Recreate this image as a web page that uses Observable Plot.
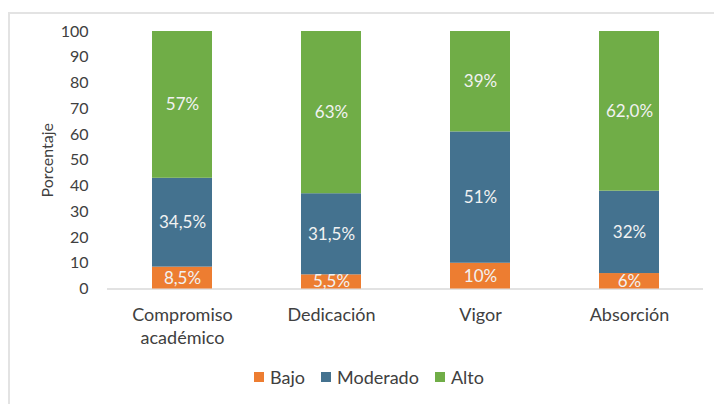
<!DOCTYPE html>
<html>
<head>
<meta charset="utf-8">
<script src="https://cdn.jsdelivr.net/npm/d3@7"></script>
<script src="https://cdn.jsdelivr.net/npm/@observablehq/plot@0.6"></script>
<style>
  body { margin: 0; background: #fff; font-family: Lato, "Open Sans", sans-serif; }
  #frame { position: absolute; left: 8px; top: 12px; width: 800px; height: 500px;
           border-left: 2px solid #e3e3e3; border-top: 2px solid #e3e3e3; }
  #chart { position: absolute; left: 0; top: 0; }
  #legend { position: absolute; left: 0; top: 366px; width: 714px; display: flex;
            justify-content: center; gap: 16px; font-size: 18px; color: #404040; padding-left: 24px; box-sizing: border-box; }
  #legend span.item { display: flex; align-items: center; gap: 6px; }
  #legend span.sw { width: 10px; height: 10px; display: inline-block; }
</style>
</head>
<body>
<div id="frame"></div>
<div id="chart"></div>
<div id="legend"></div>
<script>
const categories = ["Compromiso\nacadémico", "Dedicación", "Vigor", "Absorción"];
const levels = ["Bajo", "Moderado", "Alto"];
const colors = ["#ED7D31", "#44728F", "#70AD47"];
const bajo = [8.5, 5.5, 10, 6];
const moderado = [34.5, 31.5, 51, 32];
const alto = [57, 63, 39, 62];
const bajoLabels = ["8,5%", "5,5%", "10%", "6%"];
const moderadoLabels = ["34,5%", "31,5%", "51%", "32%"];
const altoLabels = ["57%", "63%", "39%", "62,0%"];
const yTicks = [0, 10, 20, 30, 40, 50, 60, 70, 80, 90, 100];

const series = [[bajo, bajoLabels], [moderado, moderadoLabels], [alto, altoLabels]];
const rows = [];
categories.forEach((c, i) => {
  levels.forEach((lv, j) => {
    rows.push({cat: c, level: lv, value: series[j][0][i], label: series[j][1][i]});
  });
});

const chart = Plot.plot({
  width: 714,
  height: 362,
  marginTop: 31,
  marginBottom: 73.5,
  marginLeft: 107,
  marginRight: 11,
  style: {fontFamily: "Lato, 'Open Sans', sans-serif", fontSize: "16px", color: "#404040", background: "transparent"},
  x: {domain: categories, paddingInner: 0.6, paddingOuter: 0.3, label: null},
  y: {domain: [0, 100], label: null},
  color: {domain: levels, range: colors},
  marks: [
    Plot.ruleY([0], {stroke: "#d9d9d9", strokeWidth: 1.5}),
    Plot.barY(rows, {x: "cat", y: "value", fill: "level", z: "level", order: levels}),
    Plot.text(rows, Plot.stackY({x: "cat", y: "value", z: "level", order: levels, text: "label", fill: "#f2f2f2", fontSize: 17})),
    Plot.axisY({ticks: yTicks, tickSize: 0, tickPadding: 19, fontSize: 16, label: "Porcentaje", labelAnchor: "center", labelArrow: "none", labelOffset: 66}),
    Plot.axisX({tickSize: 0, tickPadding: 15, fontSize: 18, lineHeight: 1.3, label: null})
  ]
});
document.getElementById("chart").appendChild(chart);

const legend = document.getElementById("legend");
levels.forEach((lv, j) => {
  const item = document.createElement("span");
  item.className = "item";
  const sw = document.createElement("span");
  sw.className = "sw";
  sw.style.background = colors[j];
  item.appendChild(sw);
  item.appendChild(document.createTextNode(lv));
  legend.appendChild(item);
});
</script>
</body>
</html>
